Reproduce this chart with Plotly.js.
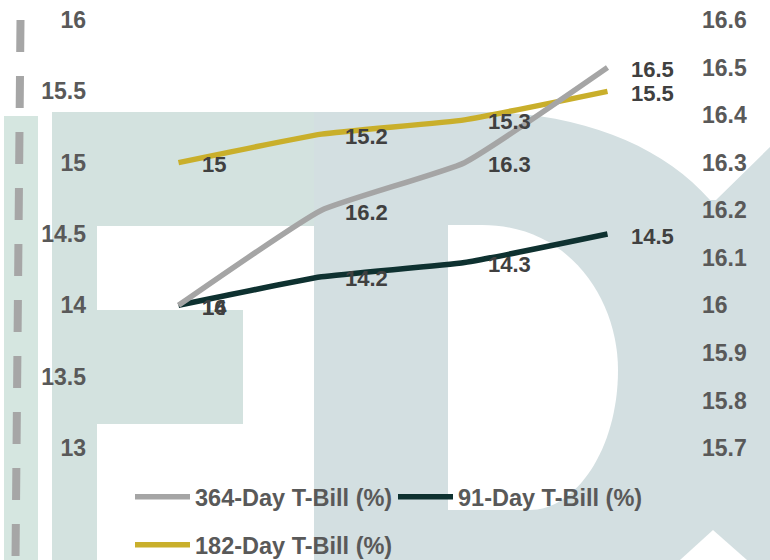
<!DOCTYPE html>
<html>
<head>
<meta charset="utf-8">
<script src="https://cdn.plot.ly/plotly-3.0.1.min.js"></script>
<style>html,body{margin:0;padding:0;background:#fff;}#chart{width:770px;height:560px;}</style>
</head>
<body>
<div id="chart"></div>
<script>
// ---- data ----
const periods = ["P1", "P2", "P3", "P4"];
const bill364 = [16.0, 16.2, 16.3, 16.5];   // right axis
const bill91  = [14.0, 14.2, 14.3, 14.5];   // left axis
const bill182 = [15.0, 15.2, 15.3, 15.5];   // left axis
const names = ["364-Day T-Bill (%)", "91-Day T-Bill (%)", "182-Day T-Bill (%)"];
const leftTicks = [13, 13.5, 14, 14.5, 15, 15.5, 16];
const rightTicks = [15.7, 15.8, 15.9, 16, 16.1, 16.2, 16.3, 16.4, 16.5, 16.6];

// ---- layout helpers (pixel -> paper) ----
const W = 770, H = 560, ML = 107, MR = 91, MT = 20, MB = 112;
const PW = W - ML - MR, PH = H - MT - MB;
const PX = x => (x - ML) / PW;
const PY = y => (H - MB - y) / PH;
function path(cmds) {
  return cmds.map(c => {
    const L = c[0]; let s = L;
    for (let i = 1; i < c.length; i += 2) s += (i > 1 ? ' ' : '') + PX(c[i]).toFixed(5) + ',' + PY(c[i + 1]).toFixed(5);
    return s;
  }).join(' ') + ' Z';
}
const WM = '#d3e2df', WM2 = '#d3dfe1', WHITE = '#ffffff';
function pshape(d, color) {
  return {type: 'path', xref: 'paper', yref: 'paper', path: d, fillcolor: color, line: {width: 0}, layer: 'below'};
}
function rshape(x0, y0, x1, y1, color) {
  return {type: 'rect', xref: 'paper', yref: 'paper', x0: PX(x0), x1: PX(x1), y0: PY(y1), y1: PY(y0),
          fillcolor: color, line: {width: 0}, layer: 'below'};
}
const shapes = [
  rshape(4, 116, 38, 560, '#d5e6e0'),
  pshape(path([['M', 52, 112], ['L', 480, 112], ['C', 580, 112, 662, 145, 710, 200], ['L', 716, 200], ['L', 770, 147], ['L', 770, 560], ['L', 52, 560]]), WM2),
  rshape(52, 112, 314, 560, WM),
  rshape(97, 226, 314, 560, WHITE),
  rshape(97, 310, 243, 424, WM),
  pshape(path([['M', 448, 225], ['L', 482, 225], ['C', 570, 225, 618, 300, 618, 370], ['C', 618, 450, 575, 510, 530, 510], ['L', 448, 510]]), WHITE),
  pshape(path([['M', 680, 560], ['L', 713, 530], ['L', 747, 560]]), WHITE),
  {type: 'line', xref: 'paper', yref: 'paper', x0: PX(20.5), y0: PY(20), x1: PX(15.5), y1: PY(560),
   line: {color: '#a6a6a6', width: 8, dash: '32px,24px'}, layer: 'below'}
];

// ---- traces ----
const FONT = 'Liberation Sans, Arial, sans-serif';
const colors = ['#a5a5a5', '#0e3130', '#c9af2b'];
const series = [
  {y: bill364, axis: 'y2', legend: 'legend'},
  {y: bill91, axis: 'y', legend: 'legend'},
  {y: bill182, axis: 'y', legend: 'legend2'}
];
const traces = series.map((s, i) => ({
  type: 'scatter', mode: 'lines', x: periods, y: s.y, yaxis: s.axis, name: names[i],
  legend: s.legend,
  line: {color: colors[i], width: 5.5, shape: 'spline', smoothing: 0.4},
  hoverinfo: 'skip'
}));

const annotations = [];
series.forEach(s => {
  s.y.forEach((v, j) => {
    annotations.push({
      x: periods[j], y: v, xref: 'x', yref: s.axis, text: String(v), showarrow: false,
      xanchor: 'left', yanchor: 'middle', xshift: 21, yshift: -2,
      font: {family: FONT, size: 22, color: '#404040', weight: 'bold'}
    });
  });
});

const tickFont = {family: FONT, size: 23, color: '#595959', weight: 'bold'};
const legFont = {family: FONT, size: 23.5, color: '#595959', weight: 'bold'};
const layout = {
  width: W, height: H,
  margin: {l: ML, r: MR, t: MT, b: MB, pad: 0, autoexpand: false},
  paper_bgcolor: '#ffffff', plot_bgcolor: 'rgba(0,0,0,0)',
  showlegend: true,
  xaxis: {type: 'category', range: [-0.5, 3.5], showticklabels: false, showgrid: false, zeroline: false, showline: false, ticks: ''},
  yaxis: {range: [13, 16], tickvals: leftTicks, showgrid: false, zeroline: false, showline: false, ticks: '',
          tickfont: tickFont, ticklabelstandoff: 20},
  yaxis2: {range: [15.7, 16.6], tickvals: rightTicks, overlaying: 'y', side: 'right', showgrid: false, zeroline: false,
           showline: false, ticks: '', tickfont: tickFont, ticklabelstandoff: 22},
  legend: {orientation: 'h', x: PX(130), y: PY(497), xanchor: 'left', yanchor: 'middle', font: legFont,
           itemwidth: 55, bgcolor: 'rgba(0,0,0,0)', entrywidth: 193, entrywidthmode: 'pixels'},
  legend2: {orientation: 'h', x: PX(130), y: PY(545), xanchor: 'left', yanchor: 'middle', font: legFont,
            itemwidth: 55, bgcolor: 'rgba(0,0,0,0)'},
  shapes: shapes,
  annotations: annotations
};
Plotly.newPlot('chart', traces, layout, {staticPlot: true, displayModeBar: false});
</script>
</body>
</html>
